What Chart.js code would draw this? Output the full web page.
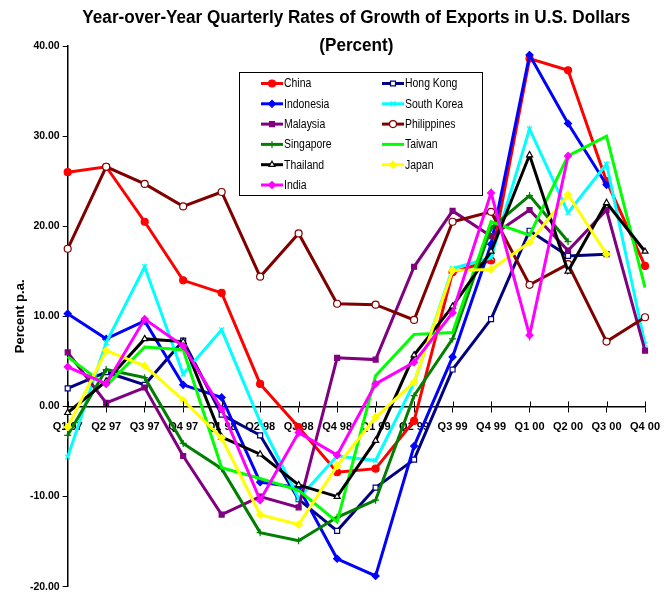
<!DOCTYPE html>
<html>
<head>
<meta charset="utf-8">
<script src="https://cdn.jsdelivr.net/npm/chart.js@4.4.1/dist/chart.umd.min.js"></script>
<style>
  html, body { margin: 0; padding: 0; background: #fff; }
  #wrap { width: 669px; height: 596px; }
</style>
</head>
<body>
<div id="wrap"><canvas id="exports-chart" width="669" height="596"></canvas></div>
<script>
const quarters = ['Q1 97', 'Q2 97', 'Q3 97', 'Q4 97', 'Q1 98', 'Q2 98', 'Q3 98', 'Q4 98',
    'Q1 99', 'Q2 99', 'Q3 99', 'Q4 99', 'Q1 00', 'Q2 00', 'Q3 00', 'Q4 00']

const china = [26.0, 26.6, 20.5, 14.0, 12.6, 2.5, -2.3, -7.3, -6.9, -1.6, 14.9, 16.2, 38.6, 37.3, 25.0, 15.6]
const hongKong = [2.0, 3.8, 2.4, 7.3, -0.9, -3.2, -10.3, -13.8, -9.0, -5.9, 4.1, 9.7, 19.5, 16.7, 16.9, null]
const indonesia = [10.3, 7.5, 9.5, 2.4, 1.0, -8.4, -9.0, -16.9, -18.8, -4.4, 5.5, 18.0, 39.0, 31.4, 24.6, null]
const southKorea = [-5.6, 7.1, 15.5, 3.6, 8.5, -1.7, -10.2, -5.5, -6.0, 2.6, 15.3, 16.5, 30.8, 21.5, 26.9, 6.9]
const malaysia = [6.0, 0.4, 2.1, -5.5, -12.0, -10.0, -11.2, 5.4, 5.2, 15.5, 21.7, 18.9, 21.8, 17.3, 21.8, 6.2]
const philippines = [17.5, 26.6, 24.7, 22.2, 23.8, 14.4, 19.2, 11.4, 11.3, 9.6, 20.5, 21.6, 13.5, 15.8, 7.2, 9.9]
const singapore = [-3.2, 4.1, 3.2, -4.1, -6.9, -14.0, -14.9, -12.3, -10.4, 1.2, 7.5, 19.8, 23.4, 18.3, null, null]
const taiwan = [5.5, 2.3, 6.6, 6.3, -6.8, -8.0, -9.3, -12.8, 3.4, 8.0, 8.2, 20.5, 19.0, 27.8, 30.0, 13.2]
const thailand = [-0.7, 2.8, 7.5, 7.2, -3.4, -5.3, -8.7, -10.0, -3.8, 5.7, 11.1, 17.2, 27.9, 15.0, 22.6, 17.2]
const japan = [-2.3, 6.2, 4.5, 0.7, -3.5, -12.0, -13.1, -6.6, -1.2, 2.7, 15.1, 15.2, 18.2, 23.5, 16.9, null]
const india = [4.4, 2.5, 9.7, 6.7, -0.3, -10.4, -2.9, -5.4, 2.5, 4.9, 10.4, 23.7, 7.9, 27.8, null, null]

const yTicks = [-20, -10, 0, 10, 20, 30, 40]

const sans = "'Liberation Sans', Arial, sans-serif"

// name, values, colour, marker, marker fill
const series = [
    ['China', china, '#ff0000', 'circle', '#ff0000'],
    ['Hong Kong', hongKong, '#000080', 'rect', '#ffffff'],
    ['Indonesia', indonesia, '#0000ff', 'rectRot', '#0000ff'],
    ['South Korea', southKorea, '#00ffff', 'crossRot', '#00ffff'],
    ['Malaysia', malaysia, '#800080', 'rect', '#800080'],
    ['Philippines', philippines, '#800000', 'circle', '#ffffff'],
    ['Singapore', singapore, '#008000', 'cross', '#008000'],
    ['Taiwan', taiwan, '#00ff00', false, '#00ff00'],
    ['Thailand', thailand, '#000000', 'triangle', '#ffffff'],
    ['Japan', japan, '#ffff00', 'rectRot', '#ffff00'],
    ['India', india, '#ff00ff', 'rectRot', '#ff00ff'],
]

const datasets = series.map(([label, data, color, marker, fill], i) => ({
    label,
    data,
    borderColor: color,
    backgroundColor: fill,
    borderWidth: 3,
    pointStyle: marker,
    pointRadius: marker ? 3.5 : 0,
    pointBorderWidth: 1.2,
    pointBorderColor: color,
    pointBackgroundColor: fill,
    tension: 0,
    spanGaps: false,
    order: series.length - i, // later series on top, like the original
}))

// draw text squeezed to look like a narrow face
function narrowText(ctx, text, x, y, squeeze) {
    ctx.save()
    ctx.translate(x, y)
    ctx.scale(squeeze, 1)
    ctx.fillText(text, 0, 0)
    ctx.restore()
}

// two line title, centred on the plot area
const titlePlugin = {
    id: 'titleText',
    afterDraw(chart) {
        const {ctx, chartArea} = chart
        const cx = (chartArea.left + chartArea.right) / 2
        ctx.save()
        ctx.fillStyle = '#000'
        ctx.textAlign = 'center'
        ctx.textBaseline = 'middle'
        ctx.font = 'bold 18px ' + sans
        const line1 = 'Year-over-Year Quarterly Rates of Growth of Exports in U.S. Dollars'
        const squeeze = 548 / ctx.measureText(line1).width
        narrowText(ctx, line1, cx, 18, squeeze)
        narrowText(ctx, '(Percent)', cx, 46, squeeze)
        ctx.restore()
    }
}

// small ticks crossing the zero line
const crossTicks = {
    id: 'crossTicks',
    afterDraw(chart) {
        const {ctx} = chart
        const x = chart.scales.x
        const y0 = chart.scales.y.getPixelForValue(0)
        ctx.save()
        ctx.strokeStyle = '#000'
        ctx.lineWidth = 1
        quarters.forEach((q, i) => {
            const px = Math.round(x.getPixelForTick(i)) + 0.5
            ctx.beginPath()
            ctx.moveTo(px, y0 - 5)
            ctx.lineTo(px, y0)
            ctx.stroke()
        })
        ctx.restore()
    }
}

// boxed legend in two columns inside the plot
const boxLegend = {
    id: 'boxLegend',
    afterDraw(chart) {
        const {ctx} = chart
        const left = 239.5, top = 72.5, w = 243, h = 123
        ctx.save()
        ctx.fillStyle = '#fff'
        ctx.fillRect(left, top, w, h)
        ctx.strokeStyle = '#000'
        ctx.lineWidth = 1
        ctx.strokeRect(left, top, w, h)
        ctx.font = '12px ' + sans
        ctx.textBaseline = 'middle'
        chart.data.datasets.forEach((ds, i) => {
            const x0 = i % 2 ? 382 : 261
            const y = 83.5 + Math.floor(i / 2) * 20.3
            ctx.strokeStyle = ds.borderColor
            ctx.lineWidth = 3
            ctx.beginPath()
            ctx.moveTo(x0, y)
            ctx.lineTo(x0 + 22, y)
            ctx.stroke()
            if (ds.pointStyle) {
                ctx.fillStyle = ds.pointBackgroundColor
                ctx.strokeStyle = ds.borderColor
                ctx.lineWidth = 1.2
                Chart.helpers.drawPoint(ctx, {pointStyle: ds.pointStyle, radius: 3.5, borderWidth: 1.2, rotation: 0}, x0 + 11, y)
            }
            ctx.fillStyle = '#000'
            narrowText(ctx, ds.label, x0 + 23, y + 0.5, 0.87)
        })
        ctx.restore()
    }
}

new Chart(document.getElementById('exports-chart'), {
    type: 'line',
    data: {
        labels: quarters,
        datasets,
    },
    options: {
        responsive: false,
        animation: false,
        layout: {
            padding: {left: 5, right: 14, top: 46, bottom: 8}
        },
        plugins: {
            legend: {display: false},
            title: {display: false},
            tooltip: {enabled: false},
        },
        scales: {
            x: {
                type: 'category',
                offset: false,
                position: {y: 0},
                grid: {drawOnChartArea: false, drawTicks: true, tickLength: 5, color: '#000'},
                border: {display: true, color: '#000', width: 1.5},
                ticks: {
                    color: '#000',
                    padding: 9,
                    maxRotation: 0,
                    autoSkip: false,
                    font: {family: sans, size: 11, weight: 'bold'},
                },
            },
            y: {
                min: -20,
                max: 40,
                afterFit: scale => { scale.width = 62.7 },
                afterBuildTicks: scale => { scale.ticks = yTicks.map(v => ({value: v})) },
                grid: {drawOnChartArea: false, drawTicks: true, tickLength: 5, color: '#000'},
                border: {display: true, color: '#000', width: 1.5},
                ticks: {
                    color: '#000',
                    padding: 3,
                    font: {family: sans, size: 10.5, weight: 'bold'},
                    callback: v => v.toFixed(2),
                },
                title: {
                    display: true,
                    text: 'Percent p.a.',
                    color: '#000',
                    padding: {top: 8, bottom: 0},
                    font: {family: sans, size: 13, weight: 'bold'},
                },
            },
        },
    },
    plugins: [titlePlugin, crossTicks, boxLegend],
})
</script>
</body>
</html>
